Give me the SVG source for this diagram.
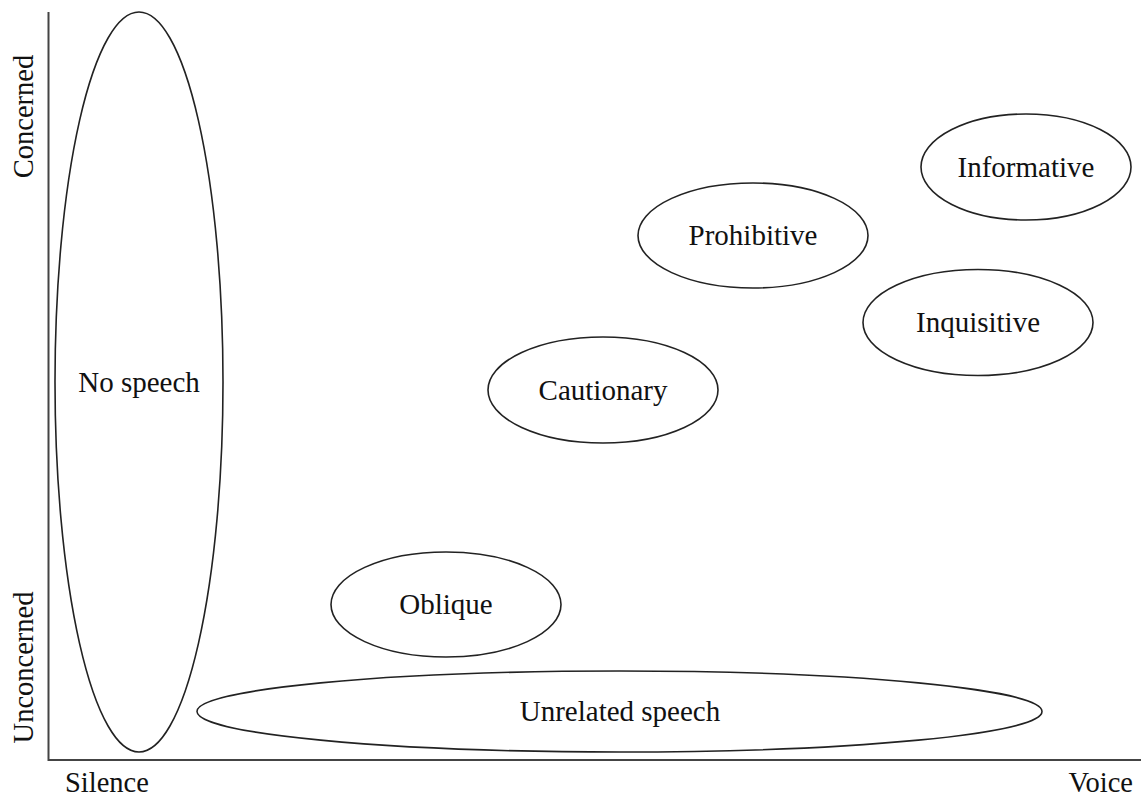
<svg xmlns="http://www.w3.org/2000/svg" width="1141" height="796" viewBox="0 0 1141 796" font-family="Liberation Serif, serif">
  <style>
    .axis { stroke: #444; stroke-width: 2; fill: none; }
    .bubble { fill: none; stroke: #222; stroke-width: 1.6; }
    text { font-family: "Liberation Serif", serif; fill: #111; }
    .lbl { font-size: 29px; text-anchor: middle; }
    .ax { font-size: 28.5px; }
  </style>
  <rect width="1141" height="796" fill="#fff"/>

  <!-- axes -->
  <g id="axes" font-family="Liberation Serif, serif">
    <polyline class="axis" points="48.5,12 48.5,760 1141,760"/>
    <text class="ax" font-family="Liberation Serif, serif" text-anchor="middle" transform="translate(33,116.5) rotate(-90)">Concerned</text>
    <text class="ax" font-family="Liberation Serif, serif" text-anchor="middle" transform="translate(33,667.5) rotate(-90)">Unconcerned</text>
    <text class="ax" font-family="Liberation Serif, serif" x="65" y="792">Silence</text>
    <text class="ax" font-family="Liberation Serif, serif" x="1133" y="792" text-anchor="end">Voice</text>
  </g>

  <g id="no-speech">
    <ellipse class="bubble" cx="139" cy="382" rx="84" ry="370"/>
    <text class="lbl" font-family="Liberation Serif, serif" x="139" y="392">No speech</text>
  </g>

  <g id="informative">
    <ellipse class="bubble" cx="1026" cy="167" rx="105" ry="53"/>
    <text class="lbl" font-family="Liberation Serif, serif" x="1026" y="176.5">Informative</text>
  </g>

  <g id="prohibitive">
    <ellipse class="bubble" cx="753" cy="235.5" rx="115" ry="52.5"/>
    <text class="lbl" font-family="Liberation Serif, serif" x="753" y="245">Prohibitive</text>
  </g>

  <g id="inquisitive">
    <ellipse class="bubble" cx="978" cy="322.5" rx="115" ry="53"/>
    <text class="lbl" font-family="Liberation Serif, serif" x="978" y="332">Inquisitive</text>
  </g>

  <g id="cautionary">
    <ellipse class="bubble" cx="603" cy="390" rx="115" ry="53"/>
    <text class="lbl" font-family="Liberation Serif, serif" x="603" y="399.5">Cautionary</text>
  </g>

  <g id="oblique">
    <ellipse class="bubble" cx="446" cy="604.5" rx="115" ry="52.5"/>
    <text class="lbl" font-family="Liberation Serif, serif" x="446" y="614">Oblique</text>
  </g>

  <g id="unrelated-speech">
    <ellipse class="bubble" cx="619.5" cy="711.5" rx="422.5" ry="40.5"/>
    <text class="lbl" font-family="Liberation Serif, serif" x="620" y="721">Unrelated speech</text>
  </g>

  <g id="connectors"></g>
</svg>
